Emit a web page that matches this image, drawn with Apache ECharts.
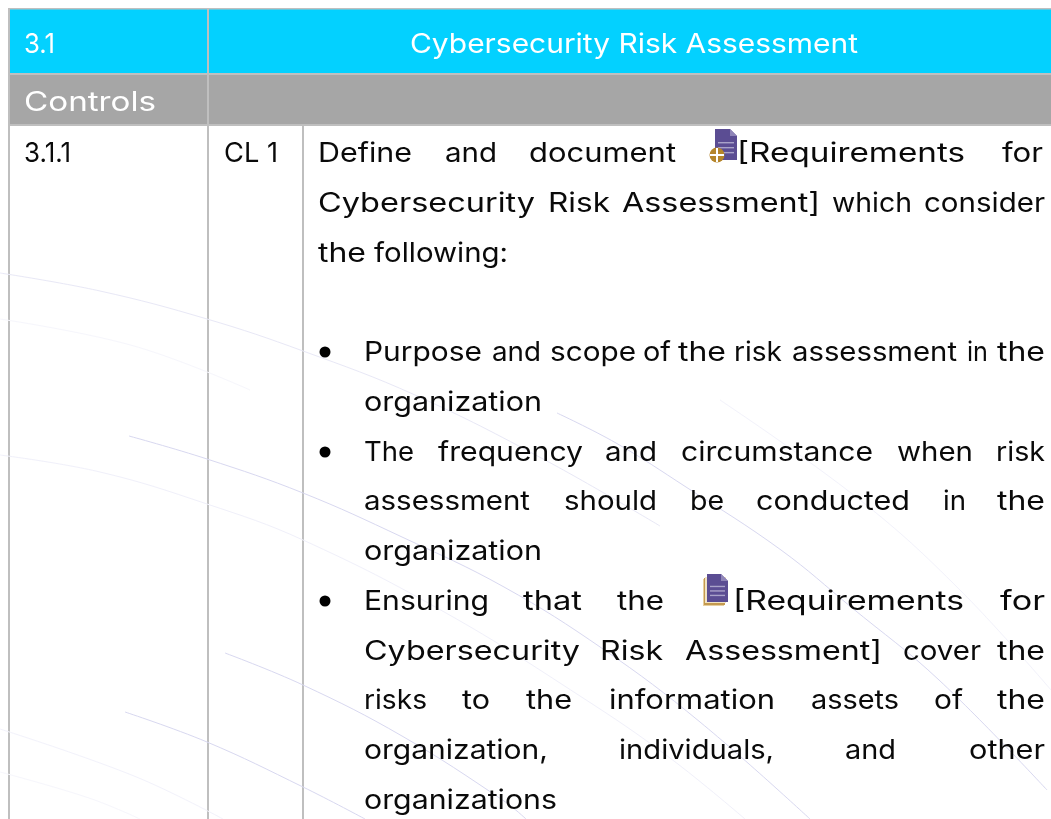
<!DOCTYPE html>
<html>
<head>
<meta charset="utf-8">
<title>Cybersecurity Risk Assessment</title>
<script src="https://cdn.jsdelivr.net/npm/echarts@6/dist/echarts.min.js"></script>
<style>
  html, body { margin: 0; padding: 0; background: #fff; }
  #chart { width: 1051px; height: 819px; }
</style>
</head>
<body>
<div id="chart"></div>
<script>
// table text
var headerId = ['3.1'];
var headerTitle = ['Cybersecurity Risk Assessment'];
var subHeader = ['Controls'];
var controlId = ['3.1.1'];
var controlLevel = ['CL 1'];
var bodyLines = [
  ['Define', 'and', 'document', '[Requirements', 'for'],
  ['Cybersecurity', 'Risk', 'Assessment]', 'which', 'consider'],
  ['the', 'following:'],
  ['Purpose', 'and', 'scope', 'of', 'the', 'risk', 'assessment', 'in', 'the'],
  ['organization'],
  ['The', 'frequency', 'and', 'circumstance', 'when', 'risk'],
  ['assessment', 'should', 'be', 'conducted', 'in', 'the'],
  ['organization'],
  ['Ensuring', 'that', 'the', '[Requirements', 'for'],
  ['Cybersecurity', 'Risk', 'Assessment]', 'cover', 'the'],
  ['risks', 'to', 'the', 'information', 'assets', 'of', 'the'],
  ['organization,', 'individuals,', 'and', 'other'],
  ['organizations']
];

// faint background arcs as [x, y]
var arcStrongA = [[0, 273], [100, 291], [207, 319], [303, 351], [415, 395], [545, 460], [660, 526]];
var arcStrongB = [[557, 413], [616, 443], [686, 487], [781, 550], [851, 607], [939, 680], [1047, 790]];
var arcStrongC = [[129, 436], [207, 459], [303, 493], [402, 537], [504, 587], [603, 649], [700, 722], [810, 819]];
var arcStrongD = [[225, 653], [303, 685], [402, 736], [504, 801], [526, 819]];
var arcStrongE = [[125, 712], [207, 742], [303, 787], [365, 819]];
var arcFaintA = [[0, 455], [100, 472], [207, 504], [303, 540], [446, 613], [580, 696], [670, 758], [745, 819]];
var arcFaintB = [[0, 319], [134, 346], [250, 390]];
var arcFaintC = [[0, 729], [134, 776], [223, 819]];
var arcFaintD = [[0, 772], [89, 798], [140, 819]];
var arcFaintE = [[720, 400], [860, 500], [960, 590], [1051, 690]];

// layout of the table, in page pixels
var FONT = '27px Inter';
var TEXT_COLOR = '#0a0a0a';
var GRID_COLOR = '#bfbfbf';
var MID = 7;  // baseline to vertical middle of the font
var bodyBaselines = [161, 211, 261, 360, 410, 460, 509, 559, 609, 659, 708, 758, 808];
var bodySpans = [
  [[318, 412], [445, 497], [529, 676], [737, 965], [1002, 1043]],
  [[318, 535], [548, 610], [622, 820], [832, 912], [924, 1045]],
  [[318, 366], [374, 508]],
  [[364, 482], [492, 541], [550, 636], [643, 671], [678, 726], [734, 782], [792, 957], [967, 988], [997, 1045]],
  [[364, 542]],
  [[364, 414], [438, 583], [605, 657], [681, 873], [897, 973], [996, 1045]],
  [[364, 530], [564, 657], [690, 724], [756, 910], [943, 966], [997, 1045]],
  [[364, 542]],
  [[364, 489], [523, 582], [617, 664], [733, 964], [1000, 1045]],
  [[364, 580], [600, 663], [685, 882], [903, 981], [997, 1045]],
  [[364, 427], [462, 490], [526, 572], [609, 775], [811, 899], [934, 963], [997, 1045]],
  [[364, 548], [619, 774], [845, 896], [969, 1045]],
  [[364, 557]]
];
var bulletCenters = [[325, 352], [325, 452], [325, 601]];

var measureCtx = document.createElement('canvas').getContext('2d');

// text squeezed or stretched to sit exactly on the span
function fitText(text, x0, x1, baseline, color, font) {
  measureCtx.font = font || FONT;
  return {
    type: 'text',
    x: x0,
    y: baseline - MID,
    z: 10,
    scaleX: (x1 - x0) / measureCtx.measureText(text).width,
    style: {
      text: text,
      x: 0,
      y: 0,
      font: font || FONT,
      fill: color || TEXT_COLOR,
      align: 'left',
      verticalAlign: 'middle'
    }
  };
}

function box(x, y, width, height, color, z) {
  return { type: 'rect', z: z || 1, shape: { x: x, y: y, width: width, height: height }, style: { fill: color } };
}

function sheet(x, y, width, height, fold, color, z) {
  return {
    type: 'polygon',
    z: z,
    shape: { points: [[x, y], [x + width - fold, y], [x + width, y + fold], [x + width, y + height], [x, y + height]] },
    style: { fill: color }
  };
}

function purpleDoc(x, y, width, height, z) {
  var els = [
    sheet(x, y, width, height, 7, '#5b4d93', z),
    { type: 'polygon', z: z + 1, shape: { points: [[x + width - 7, y], [x + width, y + 7], [x + width - 7, y + 7]] }, style: { fill: '#8f85b8' } }
  ];
  [0.42, 0.58, 0.74].forEach(function (f) {
    els.push(box(x + 3, y + height * f, width - 6, 1.4, '#a9a2c9', z + 1));
  });
  return els;
}

var elements = [];

// header fills
elements.push(box(9, 9, 1042, 64, '#03d1ff'));
elements.push(box(9, 75, 1042, 49, '#a6a6a6'));
// grid rules
elements.push(box(8, 8, 1043, 1.6, GRID_COLOR, 2));
elements.push(box(8, 73, 1043, 2, GRID_COLOR, 2));
elements.push(box(8, 124, 1043, 2, GRID_COLOR, 2));
elements.push(box(8, 8, 2, 811, GRID_COLOR, 2));
elements.push(box(207, 8, 2, 811, GRID_COLOR, 2));
elements.push(box(302, 126, 2, 693, GRID_COLOR, 2));

elements.push(fitText(headerId[0], 24, 55, 52, '#ffffff'));
elements.push(fitText(headerTitle[0], 410, 858, 52, '#ffffff'));
elements.push(fitText(subHeader[0], 24, 156, 110, '#ffffff'));
elements.push(fitText(controlId[0], 24, 71, 161, TEXT_COLOR));
elements.push(fitText(controlLevel[0], 224, 278, 161, TEXT_COLOR));

bodyLines.forEach(function (words, i) {
  words.forEach(function (word, j) {
    elements.push(fitText(word, bodySpans[i][j][0], bodySpans[i][j][1], bodyBaselines[i]));
  });
});

bulletCenters.forEach(function (c) {
  elements.push({ type: 'circle', z: 10, shape: { cx: c[0], cy: c[1], r: 5.5 }, style: { fill: '#000000' } });
});

// document icon with the gold plus badge
elements = elements.concat(purpleDoc(715, 129, 22, 31, 11));
elements.push({ type: 'circle', z: 13, shape: { cx: 717, cy: 155, r: 7.5 }, style: { fill: '#b5852a' } });
elements.push(box(710, 154, 14, 2, '#ffffff', 14));
elements.push(box(716, 148, 2, 14, '#ffffff', 14));

// stacked documents icon
elements.push(box(703, 579, 21, 27, '#e7cf9f', 11));
elements.push(box(704, 578, 21, 27, '#c49a4f', 11));
elements.push(box(705, 577, 21, 26, '#f1e3c4', 12));
elements = elements.concat(purpleDoc(707, 574, 21, 28, 13));

function arcSeries(points, color) {
  return {
    type: 'line',
    data: points,
    smooth: 0.4,
    showSymbol: false,
    silent: true,
    z: 5,
    lineStyle: { color: color, width: 1 }
  };
}

var myChart = echarts.init(document.getElementById('chart'));

var option = {
  backgroundColor: '#ffffff',
  animation: false,
  grid: { left: 0, right: 0, top: 0, bottom: 0 },
  xAxis: { type: 'value', min: 0, max: 1051, show: false },
  yAxis: { type: 'value', min: 0, max: 819, inverse: true, show: false },
  series: [
    arcSeries(arcStrongA, '#e8e8f6'),
    arcSeries(arcStrongB, '#d8d8f0'),
    arcSeries(arcStrongC, '#d8d8f0'),
    arcSeries(arcStrongD, '#d8d8f0'),
    arcSeries(arcStrongE, '#d8d8f0'),
    arcSeries(arcFaintA, '#f0f0fa'),
    arcSeries(arcFaintB, '#f6f6fc'),
    arcSeries(arcFaintC, '#f2f2fb'),
    arcSeries(arcFaintD, '#f6f6fc'),
    arcSeries(arcFaintE, '#f2f2fb')
  ],
  graphic: { elements: elements }
};

myChart.setOption(option);
</script>
</body>
</html>
